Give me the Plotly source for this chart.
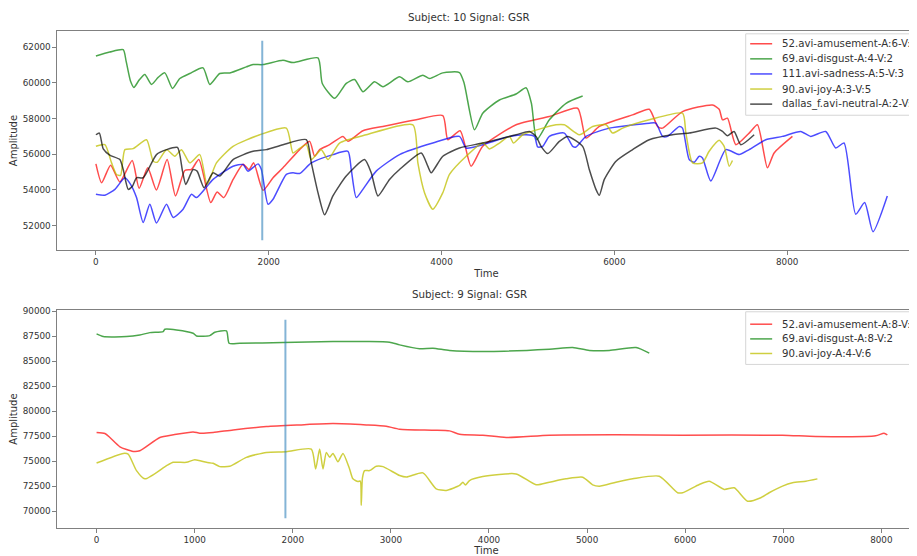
import plotly.graph_objects as go

# ---------------- Subject 10 (top) ----------------
top_title = "Subject: 10 Signal: GSR"
top_names = ["52.avi-amusement-A:6-V:6", "69.avi-disgust-A:4-V:2", "111.avi-sadness-A:5-V:3",
             "90.avi-joy-A:3-V:5", "dallas_f.avi-neutral-A:2-V:5"]

t10_amuse = [0, 66, 170, 277, 420, 500, 600, 700, 824, 921, 1029, 1106, 1191, 1329, 1403, 1480, 1588,
             1703, 1772, 1826, 1934, 2050, 2165, 2358, 2474, 2531, 2589, 2705, 2859, 2917, 3090, 3321,
             3707, 4015, 4073, 4215, 4342, 4477, 4863, 5248, 5575, 5672, 5826, 6211, 6404, 6500, 6558,
             6789, 7136, 7213, 7252, 7309, 7406, 7560, 7656, 7772, 7849, 8061]
a10_amuse = [55463, 54407, 55389, 54450, 55650, 54100, 55250, 54000, 55704, 53667, 55093, 55148, 55704,
             53296, 53889, 53574, 54593, 55444, 55148, 55518, 53981, 54685, 55241, 56259, 56722, 55889,
             56259, 56537, 57000, 56722, 57315, 57556, 57926, 58167, 56815, 57320, 55333, 56444, 57648,
             58111, 58574, 56907, 57555, 58204, 58518, 57555, 57463, 58389, 58759, 58518, 57926, 58018,
             56537, 57185, 57648, 55240, 56074, 57000]

t10_disgust = [0, 160, 316, 350, 400, 440, 500, 566, 643, 720, 798, 886, 971, 1086, 1240, 1318, 1433,
               1550, 1741, 1819, 1934, 2165, 2281, 2570, 2620, 2763, 2897, 2994, 3090, 3225, 3321, 3514,
               3610, 3784, 3861, 4015, 4207, 4260, 4381, 4477, 4670, 4863, 4978, 5040, 5102, 5248, 5441,
               5633]
a10_disgust = [61500, 61720, 61850, 61200, 60100, 59740, 60150, 60463, 59907, 60300, 60555, 59685, 60240,
               60518, 60833, 59907, 60518, 60550, 60889, 61018, 61018, 61259, 61130, 61389, 59963, 59130,
               59963, 60185, 59500, 60055, 59778, 60333, 60055, 60426, 60241, 60555, 60574, 60000, 57370,
               58296, 59037, 59370, 59722, 58852, 56815, 57926, 58852, 59259]

t10_sad = [0, 104, 220, 335, 401, 470, 547, 624, 701, 817, 894, 1009, 1106, 1164, 1356, 1587, 1703,
           1760, 1876, 1915, 1992, 2050, 2204, 2281, 2358, 2493, 2743, 2917, 2955, 3013, 3090, 3244,
           3514, 3899, 4207, 4285, 4477, 4786, 4978, 5075, 5113, 5171, 5248, 5421, 5518, 5556, 5672,
           5941, 6404, 6481, 6558, 6616, 6751, 6789, 6866, 6924, 6982, 7020, 7116, 7290, 7444, 7560,
           7752, 7945, 8157, 8272, 8446, 8562, 8658, 8793, 8897, 8993, 9159]
a10_sad = [53759, 53704, 54037, 54685, 54315, 53574, 52184, 53203, 52148, 53203, 52462, 52925, 53759,
           53574, 54592, 55333, 55425, 55055, 55462, 55148, 53203, 53481, 54870, 54962, 54925, 55518,
           55981, 56166, 55148, 53574, 54036, 55055, 55981, 56629, 57000, 56351, 56537, 57000, 57092,
           57000, 56407, 56444, 57000, 57185, 56444, 56407, 57000, 57463, 57740, 57740, 57000, 57000,
           57555, 57463, 55703, 55555, 55888, 55796, 54500, 56259, 55981, 56259, 56814, 57000, 57277,
           57000, 57277, 56351, 56629, 52647, 53296, 51666, 53666]

t10_joy = [0, 104, 181, 239, 285, 335, 431, 586, 663, 709, 817, 913, 990, 1086, 1202, 1287, 1395, 1587,
           1896, 2204, 2281, 2339, 2435, 2493, 2608, 2686, 2820, 3129, 3668, 3726, 3803, 3899, 4015,
           4092, 4285, 4477, 4554, 4670, 4786, 4832, 4940, 5325, 5421, 5595, 5749, 5903, 5980, 6096,
           6404, 6789, 6828, 6905, 7020, 7097, 7213, 7271, 7329, 7367]
a10_joy = [56444, 56537, 55518, 54870, 54814, 56259, 56314, 56814, 55611, 55555, 56259, 55888, 56259,
           55518, 55981, 54314, 55518, 56444, 57092, 57463, 56074, 56259, 56537, 55703, 56259, 55703,
           56629, 57092, 57648, 55518, 53851, 52925, 53851, 54870, 55888, 56629, 56296, 56629, 57000,
           56629, 57092, 57648, 57648, 57092, 57555, 57648, 57185, 57463, 57926, 58296, 57185, 55518,
           55518, 56166, 56777, 56444, 55333, 55648]

t10_neutral = [0, 40, 85, 160, 277, 316, 374, 424, 470, 547, 701, 817, 944, 1002, 1040, 1125,
               1171, 1252, 1356, 1433, 1587, 1819, 1973, 2165, 2435, 2493, 2570, 2647, 2743, 2897,
               3109, 3186, 3264, 3398, 3514, 3765, 3841, 3880, 4015, 4207, 4477, 4863, 5017, 5094,
               5152, 5229, 5364, 5460, 5633, 5710, 5787, 5826, 5884, 6019, 6211, 6404, 6674, 6866,
               7174, 7252, 7309, 7386, 7463, 7618]
a10_neutral = [57092, 57185, 56300, 55950, 55703, 55148, 54036, 54222, 54685, 54685, 55981, 56259,
               56380, 55055, 54311, 55148, 55055, 54130, 54962, 54777, 55703, 56166, 56259, 56537, 56814,
               55518, 53851, 52610, 53666, 54777, 55703, 54962, 53666, 54592, 55148, 56074, 55333, 54962,
               55888, 56351, 56629, 57092, 57277, 57000, 56444, 56036, 56722, 57000, 56444, 55148, 54036,
               53703, 54592, 55611, 56259, 56814, 57092, 57185, 57463, 57277, 57036, 57277, 56537, 57092]

top_vline_time = 1925
top_vline_amp = [51186, 62348]
top_xticks = [0, 2000, 4000, 6000, 8000]
top_yticks = [52000, 54000, 56000, 58000, 60000, 62000]

# ---------------- Subject 9 (bottom) ----------------
bot_title = "Subject: 9 Signal: GSR"
bot_names = ["52.avi-amusement-A:8-V:8", "69.avi-disgust-A:8-V:2", "90.avi-joy-A:4-V:6"]

t9_amuse = [0, 85, 136, 238, 373, 441, 645, 781, 984, 1052, 1188, 1392, 1731, 2070, 2410, 2749, 2953,
            3089, 3428, 3598, 3700, 3937, 4175, 4616, 5295, 5974, 6992, 7331, 7942, 8027, 8061]
a9_amuse = [77852, 77753, 77356, 76429, 75966, 76032, 77356, 77621, 77918, 77786, 77852, 78117, 78448,
            78614, 78746, 78614, 78481, 78183, 78084, 78018, 77687, 77588, 77356, 77588, 77621, 77588,
            77588, 77455, 77521, 77786, 77621]

t9_disgust = [0, 68, 305, 441, 543, 679, 696, 815, 984, 1018, 1154, 1205, 1324, 1351, 1459, 1900, 2410,
              2749, 2987, 3089, 3292, 3428, 3598, 4005, 4616, 4854, 5023, 5227, 5499, 5634]
a9_disgust = [87716, 87451, 87451, 87617, 87848, 87948, 88180, 88113, 87782, 87517, 87550, 87882, 88014,
              86789, 86789, 86855, 86955, 86955, 86889, 86624, 86227, 86293, 86061, 85962, 86194, 86359,
              86061, 86061, 86359, 85796]

t9_joy = [0, 272, 322, 407, 492, 713, 781, 916, 1001, 1120, 1188, 1256, 1358, 1527, 1731, 1935, 2189,
          2233, 2274, 2308, 2342, 2376, 2410, 2460, 2512, 2579, 2613, 2664, 2688, 2698, 2710, 2732, 2783,
          2851, 2920, 3089, 3160, 3326, 3462, 3564, 3700, 3734, 3760, 3802, 3937, 4277, 4480, 4616, 4786,
          4956, 5057, 5125, 5295, 5465, 5736, 5923, 5974, 6144, 6245, 6398, 6500, 6636, 6771, 6856, 6992,
          7094, 7230, 7348]
a9_joy = [74807, 75767, 75700, 74046, 73218, 74542, 74873, 74873, 75138, 74873, 74774, 74443, 74476,
          75370, 75866, 75933, 76198, 74211, 76198, 74211, 75866, 75370, 75767, 74940, 75767, 74211,
          73218, 72952, 73000, 70570, 73300, 74046, 74046, 74476, 74443, 73549, 73400, 73814, 72225,
          72060, 72556, 72886, 72600, 73052, 73450, 73714, 72621, 72886, 73218, 73384, 72621, 72488,
          72886, 73218, 73483, 71832, 71832, 72660, 72985, 72164, 72323, 70984, 71329, 71832, 72495,
          72826, 72985, 73218]

bot_vline_time = 1925
bot_vline_amp = [69275, 89137]
bot_xticks = [0, 1000, 2000, 3000, 4000, 5000, 6000, 7000, 8000]
bot_yticks = [70000, 72500, 75000, 77500, 80000, 82500, 85000, 87500, 90000]

# ---------------- geometry (page pixels; page body has an 8px margin) ----------------
OX, OY = 8, 8
FW, FH = 917 - OX, 556 - OY


def PX(x):
    return (x - OX) / FW


def PY(y):
    return 1 - (y - OY) / FH


FONT = "DejaVu Sans"
TXT = "#333333"
col = {"amuse": "rgba(255,0,0,0.7)", "disgust": "rgba(0,128,0,0.7)", "sad": "rgba(0,0,255,0.7)",
       "joy": "rgba(191,191,0,0.75)", "neutral": "rgba(0,0,0,0.7)"}
VCOL = "rgba(31,119,180,0.55)"

fig = go.Figure()


def add(x, y, name, color, xa, ya):
    fig.add_trace(go.Scatter(x=x, y=y, name=name, mode="lines", xaxis=xa, yaxis=ya, showlegend=False,
                             line=dict(color=color, width=1.5, shape="spline", smoothing=0.6)))


top_series = [(t10_amuse, a10_amuse, col["amuse"]), (t10_disgust, a10_disgust, col["disgust"]),
              (t10_sad, a10_sad, col["sad"]), (t10_joy, a10_joy, col["joy"]),
              (t10_neutral, a10_neutral, col["neutral"])]
bot_series = [(t9_amuse, a9_amuse, col["amuse"]), (t9_disgust, a9_disgust, col["disgust"]),
              (t9_joy, a9_joy, col["joy"])]

for (x, y, c), n in zip(top_series, top_names):
    add(x, y, n, c, "x", "y")
fig.add_trace(go.Scatter(x=[top_vline_time, top_vline_time], y=top_vline_amp, mode="lines",
                         showlegend=False, xaxis="x", yaxis="y", line=dict(color=VCOL, width=2)))
for (x, y, c), n in zip(bot_series, bot_names):
    add(x, y, n, c, "x2", "y2")
fig.add_trace(go.Scatter(x=[bot_vline_time, bot_vline_time], y=bot_vline_amp, mode="lines",
                         showlegend=False, xaxis="x2", yaxis="y2", line=dict(color=VCOL, width=2)))

# ---------------- legends (matplotlib style boxes) ----------------
shapes, annotations = [], []


def legend_box(top, bottom, rows, names, colors):
    shapes.append(dict(type="rect", xref="paper", yref="paper", x0=PX(746.5), x1=PX(935),
                       y0=PY(bottom), y1=PY(top), line=dict(color="#d6d6d6", width=1),
                       fillcolor="rgba(255,255,255,0.85)", layer="above"))
    for ry, n, c in zip(rows, names, colors):
        shapes.append(dict(type="line", xref="paper", yref="paper", x0=PX(751), x1=PX(773),
                           y0=PY(ry), y1=PY(ry), line=dict(color=c, width=1.5), layer="above"))
        annotations.append(dict(text=n, x=PX(781), y=PY(ry), xref="paper", yref="paper",
                                showarrow=False, xanchor="left", yanchor="middle",
                                font=dict(family=FONT, size=10.2, color=TXT)))


legend_box(30, 112, [40, 55.2, 70.4, 85.6, 100.8], top_names, [s[2] for s in top_series])
legend_box(310, 363, [322.5, 337.3, 352], bot_names, [s[2] for s in bot_series])

for txt, yy in [(top_title, 13), (bot_title, 292)]:
    annotations.append(dict(text=txt, x=PX(470), y=PY(yy), xref="paper", yref="paper", showarrow=False,
                            xanchor="center", yanchor="middle", font=dict(family=FONT, size=10.3, color=TXT)))

axis_common = dict(showline=True, linecolor="#808080", linewidth=1, mirror=True, ticks="outside",
                   ticklen=3.5, tickcolor="#808080", showgrid=False, zeroline=False, tickformat="d",
                   tickfont=dict(family=FONT, size=8.8, color=TXT))
title_font = dict(family=FONT, size=10, color=TXT)

fig.update_layout(
    width=FW, height=FH, margin=dict(l=0, r=0, t=0, b=0),
    paper_bgcolor="white", plot_bgcolor="white", showlegend=False,
    font=dict(family=FONT, color=TXT),
    xaxis=dict(domain=[PX(57), 1], range=[-451, 9491], anchor="y", tickvals=top_xticks,
               title=dict(text="Time", font=title_font, standoff=3), **axis_common),
    yaxis=dict(domain=[PY(248), PY(27)], range=[50628, 62906], anchor="x", tickvals=top_yticks,
               title=dict(text="Amplitude", font=title_font, standoff=4), **axis_common),
    xaxis2=dict(domain=[PX(57), 1], range=[-404, 8353], anchor="y2", tickvals=bot_xticks,
                title=dict(text="Time", font=title_font, standoff=3), **axis_common),
    yaxis2=dict(domain=[PY(528), PY(308)], range=[68282, 90130], anchor="x2", tickvals=bot_yticks,
                title=dict(text="Amplitude", font=title_font, standoff=4), **axis_common),
    shapes=shapes,
    annotations=annotations,
)

fig.write_html("out.html")
